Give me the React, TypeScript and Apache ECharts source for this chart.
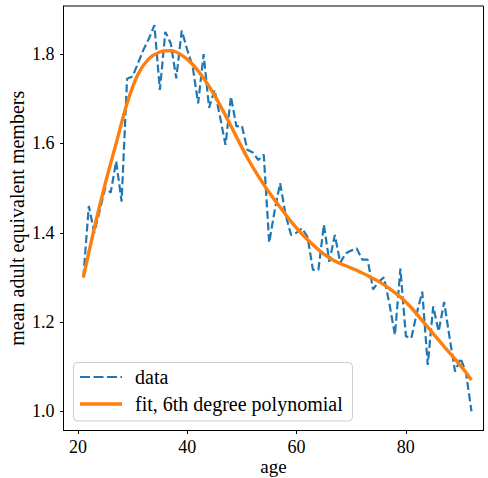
import React, { useEffect, useRef } from "react";
import * as echarts from "echarts";

const ages = [21,22,23,24,25,26,27,28,29,30,31,32,33,34,35,36,37,38,39,40,41,42,43,44,45,46,47,48,49,50,51,52,53,54,55,56,57,58,59,60,61,62,63,64,65,66,67,68,69,70,71,72,73,74,75,76,77,78,79,80,81,82,83,84,85,86,87,88,89,90,91,92];
const dataValues = [1.30,1.46,1.40,1.45,1.50,1.49,1.56,1.47,1.745,1.75,1.78,1.81,1.835,1.865,1.72,1.85,1.824,1.746,1.853,1.81,1.772,1.69,1.80,1.68,1.72,1.66,1.597,1.705,1.638,1.64,1.586,1.58,1.563,1.575,1.378,1.45,1.511,1.44,1.395,1.40,1.41,1.391,1.317,1.317,1.418,1.335,1.395,1.333,1.354,1.36,1.365,1.34,1.34,1.273,1.29,1.30,1.24,1.171,1.32,1.168,1.164,1.22,1.268,1.104,1.235,1.179,1.245,1.165,1.089,1.119,1.086,1.00];

const fitAges = [21,23,25,27,29,31,33,35,37,39,41,43,45,47,49,51,53,55,57,59,61,63,65,67,69,71,73,75,77,79,81,83,85,87,89,91,92];
const fitValues = [1.30,1.41,1.51,1.60,1.69,1.755,1.79,1.805,1.808,1.798,1.777,1.746,1.708,1.663,1.615,1.568,1.527,1.49,1.457,1.425,1.397,1.373,1.352,1.337,1.326,1.316,1.304,1.291,1.275,1.256,1.232,1.203,1.174,1.145,1.117,1.087,1.07];

const xTicks = [20, 40, 60, 80];
const yTicks = [1.0, 1.2, 1.4, 1.6, 1.8];

const legendLabels = ["data", "fit, 6th degree polynomial"];
const xName = "age";
const yName = "mean adult equivalent members";

const FONT = "'Liberation Serif', 'DejaVu Serif', serif";

export default function App() {
  const ref = useRef<HTMLDivElement>(null);
  useEffect(() => {
    if (!ref.current) return;
    const chart = echarts.init(ref.current, undefined, { renderer: "svg" });
    const dataPts = ages.map((a, i) => [a, dataValues[i]]);
    const fitPts = fitAges.map((a, i) => [a, fitValues[i]]);
    chart.setOption({
      animation: false,
      backgroundColor: "#ffffff",
      grid: {
        left: 63.5,
        right: 4.5,
        top: 6,
        bottom: 47.5,
        containLabel: false,
        outerBoundsMode: "none",
        show: true,
        borderColor: "#000",
        borderWidth: 1,
        backgroundColor: "transparent",
      },
      xAxis: {
        type: "value",
        min: 17.37,
        max: 94.2,
        splitNumber: 4,
        name: xName,
        nameLocation: "middle",
        nameGap: 26,
        nameMoveOverlap: false,
        nameTextStyle: { fontFamily: FONT, fontSize: 19, color: "#000" },
        axisLine: { show: true, onZero: false, lineStyle: { color: "#000", width: 1 } },
        axisTick: {
          show: true,
          length: 3.5,
          lineStyle: { color: "#000" },
          customValues: xTicks,
        },
        axisLabel: {
          fontFamily: FONT,
          fontSize: 18,
          color: "#000",
          margin: 7,
          customValues: xTicks,
        },
        splitLine: { show: false },
      },
      yAxis: {
        type: "value",
        min: 0.957,
        max: 1.908,
        splitNumber: 5,
        name: yName,
        nameLocation: "middle",
        nameGap: 37,
        nameMoveOverlap: false,
        nameTextStyle: { fontFamily: FONT, fontSize: 20, color: "#000" },
        axisLine: { show: true, onZero: false, lineStyle: { color: "#000", width: 1 } },
        axisTick: {
          show: true,
          length: 3.5,
          lineStyle: { color: "#000" },
          customValues: yTicks,
        },
        axisLabel: {
          fontFamily: FONT,
          fontSize: 18,
          color: "#000",
          margin: 9,
          customValues: yTicks,
          formatter: (v: number) => v.toFixed(1),
        },
        splitLine: { show: false },
      },
      series: [
        {
          name: legendLabels[0],
          type: "line",
          data: dataPts,
          symbol: "none",
          lineStyle: { color: "#1f77b4", width: 2.2, type: [8, 3.5] },
          z: 2,
        },
        {
          name: legendLabels[1],
          type: "line",
          data: fitPts,
          symbol: "none",
          smooth: 0.3,
          lineStyle: { color: "#ff7f0e", width: 3.4 },
          z: 3,
        },
      ],
      graphic: [
        {
          type: "rect",
          z: 100,
          shape: { x: 73.5, y: 362.5, width: 279, height: 58.5, r: 4 },
          style: { fill: "rgba(255,255,255,0.8)", stroke: "#cccccc", lineWidth: 1 },
        },
        {
          type: "line",
          z: 101,
          shape: { x1: 80, y1: 377, x2: 122, y2: 377 },
          style: { stroke: "#1f77b4", lineWidth: 2.2, lineDash: [10, 3.5] },
        },
        {
          type: "line",
          z: 101,
          shape: { x1: 80, y1: 404, x2: 122, y2: 404 },
          style: { stroke: "#ff7f0e", lineWidth: 3.4 },
        },
        {
          type: "text",
          z: 101,
          x: 135,
          y: 377,
          style: { text: legendLabels[0], font: `20px ${FONT}`, fill: "#000", verticalAlign: "middle" },
        },
        {
          type: "text",
          z: 101,
          x: 135,
          y: 404,
          style: { text: legendLabels[1], font: `20px ${FONT}`, fill: "#000", verticalAlign: "middle" },
        },
      ],
    });
    return () => chart.dispose();
  }, []);
  return <div ref={ref} style={{ width: 488, height: 478, position: "absolute", left: 0, top: 0 }} />;
}
